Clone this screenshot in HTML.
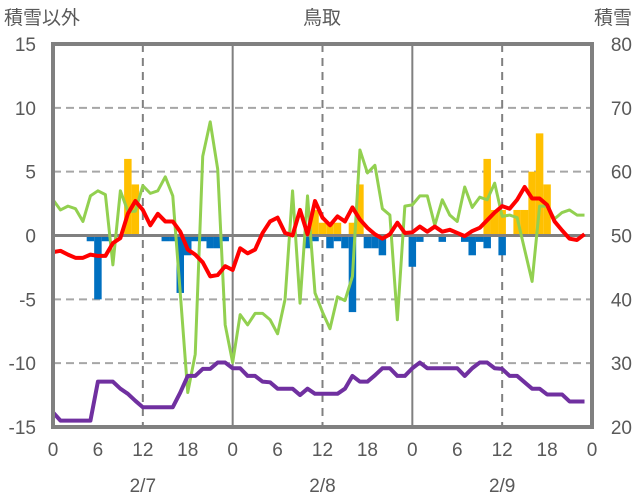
<!DOCTYPE html>
<html><head><meta charset="utf-8"><style>
body{margin:0;background:#fff;}
svg{display:block;font-family:"Liberation Sans","Noto Sans CJK JP",sans-serif;}
</style></head><body>
<svg id="chart" width="636" height="501" viewBox="0 0 636 501">
<text x="4" y="24" font-size="19" fill="#595959">積雪以外</text>
<text x="322" y="24" font-size="19" fill="#595959" text-anchor="middle">鳥取</text>
<text x="632" y="24" font-size="19" fill="#595959" text-anchor="end">積雪</text>
<g id="grid"></g><g id="bars"></g><g id="lines"></g><g id="frame"></g><g id="labels"></g>
</svg>
<script>
const hours = Array.from({length:72},(_,i)=>i);
const temperature = [-1.3,-1.2,-1.5,-1.75,-1.75,-1.5,-1.6,-1.6,-0.6,-0.2,1.7,2.7,2.0,0.8,1.7,1.1,1.1,0.3,-1.1,-1.5,-2.1,-3.2,-3.1,-2.4,-2.7,-1.0,-1.4,-1.1,0.2,1.1,1.4,0.2,0,2.0,0.1,2.7,1.4,0.8,1.5,1.1,2.2,1.25,0.6,0.1,-0.25,0.1,1.0,0.2,0.25,0.7,0.3,0.7,0.3,0.45,0.2,-0.05,0.35,0.6,1.2,1.8,2.3,2.1,2.8,3.8,2.9,2.9,2.4,1.1,0.4,-0.25,-0.35,0.1];
const windSeries = [2.8,2.0,2.3,2.1,1.1,3.1,3.5,3.2,-2.3,3.5,1.9,1.9,3.9,3.3,3.5,4.6,3.1,-4.5,-12.3,-9.3,6.2,8.9,5.2,-7.0,-9.95,-6.2,-7.0,-6.1,-6.1,-6.6,-7.7,-5.0,3.5,-5.3,3.1,-4.5,-6.0,-7.3,-4.8,-5.1,-3.2,6.7,4.9,5.5,2.1,1.6,-6.6,2.3,2.4,3.1,3.1,0.8,2.8,1.6,1.1,3.8,2.2,3.0,2.8,4.1,1.5,1.6,1.4,-1.1,-3.6,2.3,2.3,1.3,1.8,2.0,1.6,1.6];
const snowDepth = [22.3,21,21,21,21,21,27.1,27.1,27.1,26,25.2,24.1,23.1,23.1,23.1,23.1,23.1,25.4,28,28,29.1,29.1,30.1,30.1,29.2,29.2,28,28,27.1,27,26,26,26,25,26,25.2,25.2,25.2,25.2,26,28,27.1,27.1,28.1,29.2,29.2,28,28,29.2,30.1,29.2,29.2,29.2,29.2,29.2,28,29.2,30.1,30.1,29.2,29.1,28,28,27,26,26,25.1,25.1,25.1,24,24,24];
const snowfall = [0,0,0,0,0,0,0,0,0,0,6,4,0,0,0,0,0,0,0,0,0,0,0,0,0,0,0,0,0,0,0,0,0,0,0,2,1,1,1,0,1,4,0,0,0,0,0,0,0,0,0,0,0,0,0,0,0,0,6,2,2,0,2,2,5,8,4,0,0,0,0,0];
const negBars = [0,0,0,0,0,-0.45,-5,-0.45,0,0,0,0,0,0,0,-0.45,-0.45,-4.5,-1.55,-0.45,-0.45,-1,-1,-0.45,0,0,0,0,0,0,0,0,0,0,-1,-0.45,0,-1,-0.45,-1,-6,0,-1,-1,-1.55,0,0,0,-2.45,-0.5,0,0,-0.5,0,0,-0.5,-1.55,-0.5,-1,0,-1.55,0,0,0,0,0,0,0,0,0,0,0];
const leftTicks = [15,10,5,0,-5,-10,-15];
const rightTicks = [80,70,60,50,40,30,20];
const xTickLabels = ["0","6","12","18","0","6","12","18","0","6","12","18","0"];
const dateLabels = ["2/7","2/8","2/9"];

const X0=53,X1=592,Y0=44,Y1=427;
const xs=h=>X0+(X1-X0)*h/72;
const yL=v=>Y0+(15-v)*(Y1-Y0)/30;
const yR=v=>Y0+(80-v)*(Y1-Y0)/60;
const NS="http://www.w3.org/2000/svg";
function mk(tag,parent,attrs){const e=document.createElementNS(NS,tag);for(const k in attrs)e.setAttribute(k,attrs[k]);document.getElementById(parent).appendChild(e);return e;}

// grid
leftTicks.forEach(t=>{if(t===15||t===-15||t===0)return;
 const g=mk('line','grid',{x1:X0,x2:X1,y1:yL(t),y2:yL(t),stroke:'#a6a6a6','stroke-width':2,'stroke-dasharray':'8,5'});
 
 });
[12,36,60].forEach(h=>{const g=mk('line','grid',{x1:xs(h),x2:xs(h),y1:Y0,y2:Y1,stroke:'#808080','stroke-width':2,'stroke-dasharray':'8,6'});
 
 });
[24,48].forEach(h=>{const g=mk('line','grid',{x1:xs(h),x2:xs(h),y1:Y0,y2:Y1,stroke:'#808080','stroke-width':2});
 
 });

// bars
const bw=(X1-X0)/72;
hours.forEach(h=>{
 if(snowfall[h]>0){const r=mk('rect','bars',{x:xs(h)-bw/2,y:yL(snowfall[h]),width:bw,height:yL(0)-yL(snowfall[h]),fill:'#ffc000'});
  
  }
 if(negBars[h]<0){const r=mk('rect','bars',{x:xs(h)-bw/2,y:yL(0),width:bw,height:yL(negBars[h])-yL(0),fill:'#0070c0'});
  
  }
});
const zl=mk('line','bars',{x1:X0,x2:X1,y1:yL(0),y2:yL(0),stroke:'#808080','stroke-width':3});



// lines
function line(arr,fy,color,name,w){const p=mk('polyline','lines',{points:arr.map((v,i)=>xs(i)+','+fy(v)).join(' '),fill:'none',stroke:color,'stroke-width':w,'stroke-linejoin':'round'});
 
 }
line(windSeries,yL,'#92d050','green-series-line',3);
line(snowDepth,yR,'#7030a0','snow-depth-line',4);
line(temperature,yL,'#ff0000','temperature-line',4);

// frame
const fr=mk('rect','frame',{x:X0,y:Y0,width:X1-X0,height:Y1-Y0,fill:'none',stroke:'#808080','stroke-width':4});



// labels
leftTicks.forEach(t=>{const e=mk('text','labels',{x:36,y:yL(t)+7,'font-size':19,fill:'#595959','text-anchor':'end'});e.textContent=t;
 
 });
rightTicks.forEach(t=>{const e=mk('text','labels',{x:632,y:yR(t)+7,'font-size':19,fill:'#595959','text-anchor':'end'});e.textContent=t;
 
 });
xTickLabels.forEach((t,i)=>{const e=mk('text','labels',{x:xs(i*6),y:456,'font-size':19,fill:'#595959','text-anchor':'middle'});e.textContent=t;
 
 });
dateLabels.forEach((t,i)=>{const e=mk('text','labels',{x:xs(12+24*i),y:492,'font-size':19,fill:'#595959','text-anchor':'middle'});e.textContent=t;
 
 });
</script>
</body></html>
